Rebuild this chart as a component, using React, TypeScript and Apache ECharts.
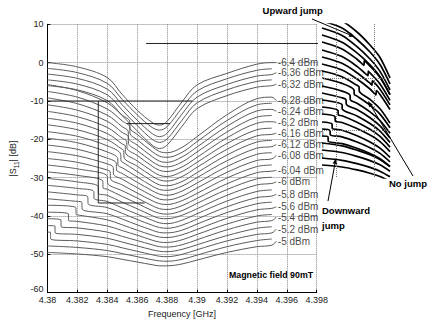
import React, { useEffect, useRef } from "react";
import * as echarts from "echarts";

const FF = "Liberation Sans, Arial, Helvetica, sans-serif";

// Frequency sample points (GHz) shared by all curves
const FREQ = [4.38, 4.382, 4.384, 4.385, 4.386, 4.387, 4.3875, 4.388, 4.389, 4.39, 4.392, 4.394, 4.395];

// |S11| in dB for each measured curve (top = lowest input power)
const S11: number[][] = [
  [0, -1.1, -3.9, -8.3, -12.4, -15.6, -16.3, -15.3, -10.2, -5.8, -2.8, -0.4, 0],
  [-1.5, -2.6, -5.4, -9.6, -13.6, -16.9, -17.6, -16.7, -11.8, -7.4, -4.2, -2.0, -1.6],
  [-3.0, -4.1, -6.9, -11.0, -15.0, -18.5, -19.3, -18.4, -13.4, -9.0, -5.7, -3.5, -3.1],
  [-4.5, -5.6, -8.4, -12.4, -16.4, -20.0, -20.8, -19.9, -15.0, -10.5, -7.1, -4.9, -4.5],
  [-6.0, -7.1, -9.9, -13.8, -17.8, -21.5, -22.4, -21.5, -16.6, -12.0, -8.6, -6.4, -6.0],
  [-5.7, -7.3, -10.5, -13.7, -18.7, -21.9, -23.2, -23.5, -22.1, -19.3, -13.6, -9.4, -9.0],
  [-7.5, -9.0, -12.1, -15.2, -20.1, -23.2, -24.4, -24.7, -23.4, -20.6, -15.1, -11.0, -10.6],
  [-9.2, -10.7, -13.7, -16.7, -21.5, -24.5, -25.7, -26.0, -24.6, -22.0, -16.6, -12.6, -12.2],
  [-11.0, -12.4, -15.3, -18.2, -22.9, -25.8, -26.9, -27.2, -25.9, -23.3, -18.1, -14.2, -13.8],
  [-12.7, -14.1, -16.9, -19.7, -24.2, -27.0, -28.1, -28.4, -27.2, -24.7, -19.6, -15.8, -15.4],
  [-14.5, -15.8, -18.5, -21.2, -25.6, -28.3, -29.4, -29.7, -28.4, -26.0, -21.1, -17.5, -17.1],
  [-16.2, -17.5, -20.1, -22.6, -27.0, -29.6, -30.6, -30.9, -29.7, -27.3, -22.6, -19.1, -18.7],
  [-18.0, -19.2, -21.7, -25.9, -28.4, -30.9, -31.9, -32.1, -31.0, -28.7, -24.1, -20.7, -20.3],
  [-19.7, -20.9, -23.3, -27.4, -29.8, -32.2, -33.1, -33.3, -32.2, -30.0, -25.6, -22.3, -21.9],
  [-21.5, -22.6, -24.9, -28.9, -31.2, -33.4, -34.3, -34.6, -33.5, -31.4, -27.1, -23.9, -23.5],
  [-23.2, -24.3, -26.4, -30.4, -32.6, -34.7, -35.6, -35.8, -34.8, -32.7, -28.6, -25.5, -25.1],
  [-25.0, -26.0, -28.0, -31.9, -34.0, -36.0, -36.8, -37.0, -36.0, -34.1, -30.1, -27.1, -26.7],
  [-26.7, -27.7, -31.4, -33.4, -35.3, -37.3, -38.1, -38.3, -37.3, -35.4, -31.6, -28.7, -28.3],
  [-28.5, -29.4, -33.0, -34.9, -36.7, -38.6, -39.3, -39.5, -38.6, -36.7, -33.1, -30.3, -29.9],
  [-30.2, -31.1, -34.6, -36.4, -38.1, -39.9, -40.6, -40.7, -39.8, -38.1, -34.6, -31.9, -31.5],
  [-32.0, -32.8, -36.2, -37.9, -39.5, -41.1, -41.8, -42.0, -41.1, -39.4, -36.1, -33.6, -33.2],
  [-33.7, -34.5, -37.8, -39.3, -40.9, -42.4, -43.0, -43.2, -42.4, -40.8, -37.6, -35.2, -34.8],
  [-35.5, -36.2, -39.4, -40.8, -42.3, -43.7, -44.3, -44.4, -43.7, -42.1, -39.1, -36.8, -36.4],
  [-37.2, -39.7, -41.0, -42.3, -43.7, -45.0, -45.5, -45.6, -44.9, -43.5, -40.6, -38.4, -38.0],
  [-39.0, -41.4, -42.6, -43.8, -45.0, -46.3, -46.8, -46.9, -46.2, -44.8, -42.1, -40.0, -39.6],
  [-40.7, -43.1, -44.2, -45.3, -46.4, -47.5, -48.0, -48.1, -47.5, -46.2, -43.6, -41.6, -41.2],
  [-42.5, -44.8, -45.8, -46.8, -47.8, -48.8, -49.2, -49.3, -48.7, -47.5, -45.1, -43.2, -42.8],
  [-44.2, -46.5, -47.4, -48.3, -49.2, -50.1, -50.5, -50.6, -50.0, -48.8, -46.5, -44.8, -44.4],
  [-47.8, -48.2, -49.0, -49.8, -50.6, -51.4, -51.7, -51.8, -51.3, -50.2, -48.0, -46.4, -46.0],
  [-49.5, -49.9, -50.6, -51.3, -52.0, -52.7, -53.0, -53.0, -52.5, -51.5, -49.5, -48.0, -47.6],
];

// Bistable jumps of each curve: frequency, level before, level after
const JUMP_F: (number | null)[] = [
  null, null, null, null, null,
  4.3855, 4.3855, 4.3854, 4.3854, 4.3853, 4.3852, 4.3851, 4.3849, 4.3847, 4.3846,
  4.3844, 4.3842, 4.384, 4.3837, 4.3834, 4.3831, 4.3827, 4.3823, 4.3819, 4.3814,
  4.3809, 4.3805, 4.3802, null, null,
];
const JUMP_FROM: (number | null)[] = [
  null, null, null, null, null,
  -15.3, -16.7, -17.9, -19.3, -20.5, -21.7, -22.9, -23.9, -25.0, -26.2,
  -27.3, -28.5, -29.6, -30.9, -32.3, -33.6, -35.0, -36.4, -37.8, -39.4,
  -41.0, -42.6, -44.2, null, null,
];
const JUMP_TO: (number | null)[] = [
  null, null, null, null, null,
  -17.1, -18.5, -19.7, -21.1, -22.3, -23.5, -24.7, -25.7, -26.8, -28.0,
  -29.1, -30.3, -31.4, -32.7, -34.1, -35.4, -36.8, -38.2, -39.6, -41.2,
  -42.8, -44.4, -46.0, null, null,
];

// Input power labels, their level at the right end, and the curve they name
const POWER_LABELS = [
  "-6.4 dBm", "-6.36 dBm", "-6.32 dBm", "-6.28 dBm", "-6.24 dBm", "-6.2 dBm",
  "-6.16 dBm", "-6.12 dBm", "-6.08 dBm", "-6.04 dBm", "-6 dBm", "-5.8 dBm",
  "-5.6 dBm", "-5.4 dBm", "-5.2 dBm", "-5 dBm",
];
const LABEL_DB = [0, -2.6, -5.6, -9.9, -12.7, -15.6, -18.4, -21.3, -24.2, -28.1, -31.1, -34.3, -37.6, -40.3, -43.4, -46.6];
const LABEL_CURVE = [0, 2, 4, 5, 7, 9, 11, 13, 15, 17, 19, 21, 23, 25, 27, 29];
const LABEL_FREQ = 4.3953;

// Extra traces in the main plot
const PLATEAU = [[4.3853, -15.9], [4.3882, -15.9]];
const ZOOM_BOX_TOP = [[4.38, -10], [4.3897, -10]];
const ZOOM_BOX_SIDE = [[4.3834, -10], [4.3834, -36.6], [4.3865, -36.6]];
const CONNECTOR = [[4.3866, 5], [4.3984, 5]];

// Zoomed inset (arbitrary units: u across, w downwards)
const INSET: number[][][] = [
  [[0, -10], [20, -3], [35, 8], [48, 21], [58, 33.5], [68, 54]],
  [[0, -3], [20, 4], [35, 15.5], [48, 28], [58, 40.5], [68, 60]],
  [[0, 4], [20, 11.4], [35, 22.6], [48, 35], [58, 47.4], [68, 66]],
  [[0, 11], [20, 18.2], [35, 28.9], [48, 40.8], [58, 52.7], [68, 70.6]],
  [[0, 18], [20, 24.9], [35, 35.2], [42, 41.3], [42.3, 36.8], [48, 42.1], [58, 53.5], [68, 70.7]],
  [[0, 26], [20, 32.6], [35, 42.4], [46, 51.7], [46.3, 47.2], [48, 48.9], [58, 59.9], [68, 76.3]],
  [[0, 33], [20, 39.3], [35, 48.7], [48, 59.2], [50, 61.3], [50.3, 56.8], [58, 65.2], [68, 80.9]],
  [[0, 40], [20, 46], [35, 55], [48, 65], [54, 71], [54.3, 66.5], [58, 70.5], [68, 85.5]],
  [[0, 47], [20, 52.7], [35, 61.3], [37, 62.8], [37.3, 67.3], [48, 75.3], [58, 84.8], [68, 99.1]],
  [[0, 54], [20, 59.4], [32, 66], [32.3, 70.5], [35, 72.1], [48, 81.1], [58, 90.1], [68, 103.7]],
  [[0, 62], [20, 67.1], [28, 71.2], [28.3, 75.7], [35, 79.3], [48, 87.9], [58, 96.5], [68, 109.3]],
  [[0, 69], [20, 73.8], [24, 75.7], [24.3, 80.2], [35, 85.6], [48, 93.7], [58, 101.8], [68, 113.9]],
  [[0, 76], [20, 80.6], [20.3, 85.1], [35, 91.9], [48, 99.5], [58, 107.1], [68, 118.5]],
  [[0, 83], [16, 86.4], [16.3, 90.9], [20, 91.8], [35, 98.2], [48, 105.3], [58, 112.4], [68, 123.1]],
  [[0, 90], [13, 92.6], [13.3, 97.1], [20, 98.5], [35, 104.5], [48, 111.1], [58, 117.7], [68, 127.7]],
  [[0, 98], [10, 99.9], [10.3, 104.4], [20, 106.2], [35, 111.7], [48, 117.9], [58, 124.1], [68, 133.3]],
  [[0, 105], [8, 106.4], [8.3, 110.9], [20, 112.9], [35, 118], [48, 123.7], [58, 129.4], [68, 137.9]],
  [[0, 112], [6, 112.9], [6.3, 117.4], [20, 119.6], [35, 124.3], [48, 129.5], [58, 134.7], [68, 142.5]],
  [[0, 119], [20, 121.8], [35, 126.1], [48, 130.8], [58, 135.5], [68, 142.6]],
  [[0, 126], [20, 128.5], [35, 132.4], [48, 136.6], [58, 140.8], [68, 147.2]],
  [[0, 134], [20, 136.3], [35, 139.6], [48, 143.4], [58, 147.2], [68, 152.8]],
  [[0, 141], [20, 143], [35, 145.9], [48, 149.2], [58, 152.5], [68, 157.4]],
];
const INSET_GRID_U = [14, 52];
const INSET_GRID_W = [54, 106];

function buildCurve(k: number): number[][] {
  const row = S11[k];
  const pts = FREQ.map((f, i) => [f, row[i]]);
  const jf = JUMP_F[k];
  let out: number[][];
  if (jf == null) {
    out = pts;
  } else {
    const eps = 0.00002;
    out = [
      ...pts.filter((p) => p[0] < jf),
      [jf, JUMP_FROM[k] as number],
      [jf + eps, JUMP_TO[k] as number],
      ...pts.filter((p) => p[0] > jf + eps),
    ];
  }
  const li = LABEL_CURVE.indexOf(k);
  if (li >= 0) out.push([LABEL_FREQ, LABEL_DB[li]]);
  return out;
}

export default function App() {
  const ref = useRef<HTMLDivElement>(null);
  useEffect(() => {
    if (!ref.current) return;
    const chart = echarts.init(ref.current, undefined, { renderer: "svg" });
    const series: any[] = [];
    S11.forEach((_, k) => {
      series.push({
        type: "line",
        xAxisIndex: 0,
        yAxisIndex: 0,
        data: buildCurve(k),
        smooth: 0.35,
        symbol: "none",
        silent: true,
        lineStyle: { color: "#5a5a5a", width: 1 },
      });
    });
    const thin = (data: number[][], clip = true) => ({
      type: "line",
      xAxisIndex: 0,
      yAxisIndex: 0,
      data,
      symbol: "none",
      silent: true,
      clip,
      lineStyle: { color: "#222", width: 1 },
    });
    series.push(thin(PLATEAU));
    series.push(thin(ZOOM_BOX_TOP));
    series.push(thin(ZOOM_BOX_SIDE));
    series.push(thin(CONNECTOR, false));
    series.push({
      type: "scatter",
      xAxisIndex: 0,
      yAxisIndex: 0,
      silent: true,
      symbolSize: 1,
      itemStyle: { color: "rgba(0,0,0,0)" },
      data: LABEL_DB.map((d, i) => ({ name: POWER_LABELS[i], value: [LABEL_FREQ, d] })),
      label: {
        show: true,
        position: "right",
        distance: 1,
        formatter: "{b}",
        fontSize: 10,
        fontFamily: FF,
        color: "#111",
      },
    });
    INSET.forEach((curve, i) => {
      series.push({
        type: "line",
        xAxisIndex: 1,
        yAxisIndex: 1,
        data: curve,
        smooth: 0.3,
        symbol: "none",
        silent: true,
        lineStyle: { color: "#000", width: 1.7 },
        markLine:
          i === 0
            ? {
                silent: true,
                symbol: ["none", "none"],
                label: { show: false },
                lineStyle: { color: "#777", type: "dotted", width: 1 },
                data: [
                  ...INSET_GRID_U.map((u) => ({ xAxis: u })),
                  ...INSET_GRID_W.map((w) => ({ yAxis: w })),
                ],
              }
            : undefined,
      });
    });

    const arrow = (x1: number, y1: number, x2: number, y2: number) => {
      const dx = x2 - x1;
      const dy = y2 - y1;
      const len = Math.hypot(dx, dy);
      const ux = dx / len;
      const uy = dy / len;
      const bx = x2 - 6 * ux;
      const by = y2 - 6 * uy;
      const px = -uy * 2.3;
      const py = ux * 2.3;
      return [
        { type: "line", shape: { x1, y1, x2: bx, y2: by }, style: { stroke: "#000", lineWidth: 1 } },
        {
          type: "polygon",
          shape: { points: [[x2, y2], [bx + px, by + py], [bx - px, by - py]] },
          style: { fill: "#000" },
        },
      ];
    };
    const bold = (text: string, x: number, y: number, align = "left", size = 9.5) => ({
      type: "text",
      x,
      y,
      style: {
        text,
        font: `bold ${size}px ${FF}`,
        fill: "#000",
        align,
        verticalAlign: "middle",
      },
    });

    chart.setOption({
      animation: false,
      backgroundColor: "#fff",
      grid: [
        { left: 46.7, top: 24.3, width: 270, height: 268.4 },
        { left: 322, top: 24, width: 68, height: 154 },
      ],
      xAxis: [
        {
          type: "value",
          gridIndex: 0,
          min: 4.38,
          max: 4.398,
          interval: 0.002,
          name: "Frequency [GHz]",
          nameLocation: "middle",
          nameGap: 14,
          nameTextStyle: { fontSize: 9, fontFamily: FF, color: "#222" },
          axisLine: { show: true, onZero: false, lineStyle: { color: "#000", width: 1 } },
          axisTick: { show: true, inside: true, length: 3, lineStyle: { color: "#000" } },
          axisLabel: {
            fontSize: 9,
            fontFamily: FF,
            color: "#222",
            margin: 3,
            formatter: (v: number) => String(+v.toFixed(3)),
          },
          splitLine: { show: true, lineStyle: { color: "#888", type: "dotted", width: 1 } },
        },
        { type: "value", gridIndex: 1, min: 0, max: 68, show: false, splitLine: { show: false } },
      ],
      yAxis: [
        {
          type: "value",
          gridIndex: 0,
          min: -60,
          max: 10,
          interval: 10,
          name: "{a||S}{s|11}{a|| [dB]}",
          nameLocation: "middle",
          nameGap: 20,
          nameRotate: 90,
          nameTextStyle: {
            fontFamily: FF,
            color: "#222",
            rich: {
              a: { fontSize: 9, fontFamily: FF, color: "#222", lineHeight: 14, verticalAlign: "middle" },
              s: { fontSize: 6.5, fontFamily: FF, color: "#222", lineHeight: 14, verticalAlign: "bottom" },
            },
          },
          axisLine: { show: true, onZero: false, lineStyle: { color: "#000", width: 1 } },
          axisTick: { show: true, inside: true, length: 3, lineStyle: { color: "#000" } },
          axisLabel: {
            fontSize: 9,
            fontFamily: FF,
            color: "#222",
            margin: 4,
            formatter: (v: number) => (v === -60 ? "{low|-60}" : String(v)),
            rich: {
              low: { fontSize: 9, fontFamily: FF, color: "#222", padding: [0, 0, 7, 0] },
            },
          },
          splitLine: { show: true, lineStyle: { color: "#888", type: "dotted", width: 1 } },
        },
        { type: "value", gridIndex: 1, min: 0, max: 154, inverse: true, show: false, splitLine: { show: false } },
      ],
      series,
      graphic: [
        bold("Upward jump", 292.7, 10, "center"),
        ...arrow(312, 19, 355, 37),
        bold("No jump", 408, 183, "center"),
        ...arrow(413, 176, 368, 101),
        bold("Downward", 322, 210),
        bold("jump", 322, 225),
        ...arrow(328, 201, 336, 158),
        bold("Magnetic field 90mT", 229, 275, "left", 8.8),
      ],
    });
    return () => chart.dispose();
  }, []);
  return <div ref={ref} style={{ position: "absolute", left: 0, top: 0, width: 432, height: 329 }} />;
}
